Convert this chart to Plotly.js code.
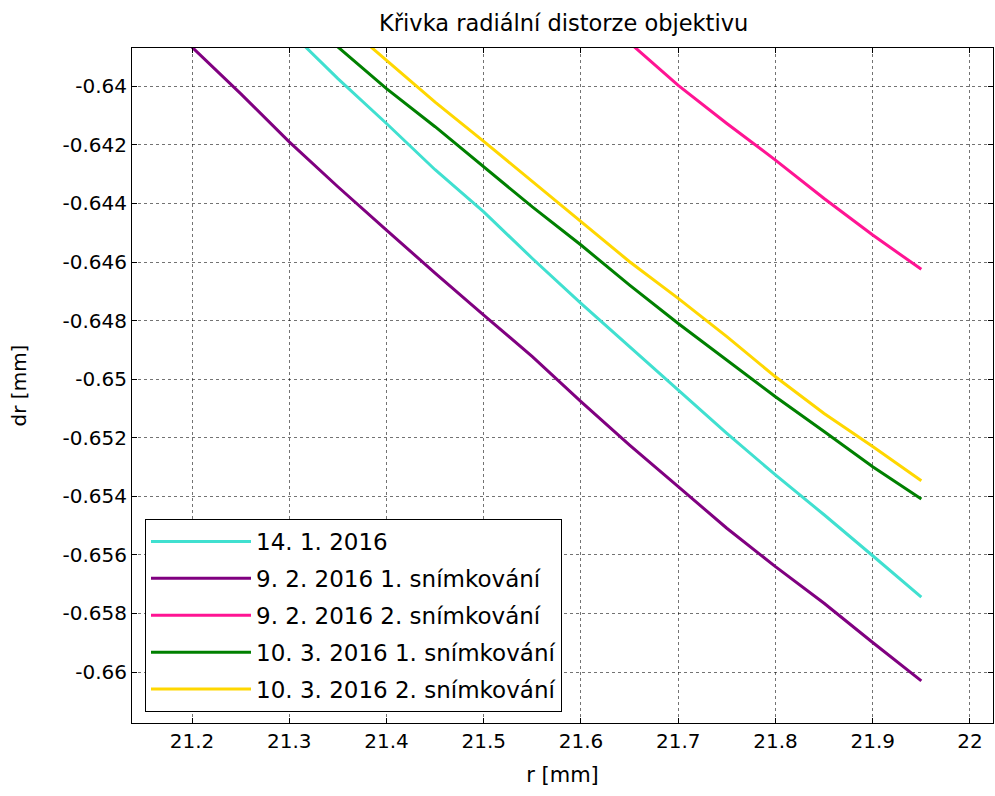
<!DOCTYPE html>
<html>
<head>
<meta charset="utf-8">
<script src="https://cdn.plot.ly/plotly-3.0.1.min.js"></script>
<style>html,body{margin:0;padding:0;background:#fff;}#chart{width:995px;height:796px;}</style>
</head>
<body>
<div id="chart"></div>
<script>
// ---- data ----
const seriesNames = ["14. 1. 2016", "9. 2. 2016 1. snímkování", "9. 2. 2016 2. snímkování", "10. 3. 2016 1. snímkování", "10. 3. 2016 2. snímkování"];

const r_s1 = [21.315, 21.35, 21.4, 21.45, 21.5, 21.55, 21.6, 21.65, 21.7, 21.75, 21.8, 21.85, 21.9, 21.95];
const dr_s1 = [-0.6386, -0.63974, -0.64127, -0.64285, -0.64429, -0.64588, -0.64741, -0.64889, -0.65037, -0.65185, -0.65327, -0.65463, -0.65603, -0.65744];

const r_s2 = [21.198, 21.25, 21.3, 21.35, 21.4, 21.45, 21.5, 21.55, 21.6, 21.65, 21.7, 21.75, 21.8, 21.85, 21.9, 21.95];
const dr_s2 = [-0.6386, -0.64025, -0.6419, -0.64343, -0.64491, -0.64638, -0.64781, -0.64923, -0.65077, -0.65225, -0.65367, -0.65509, -0.6564, -0.65765, -0.65899, -0.6603];

const r_s3 = [21.653, 21.7, 21.75, 21.8, 21.85, 21.9, 21.95];
const dr_s3 = [-0.6386, -0.63997, -0.64127, -0.64252, -0.64383, -0.64508, -0.64625];

const r_s4 = [21.348, 21.4, 21.45, 21.5, 21.55, 21.6, 21.65, 21.7, 21.75, 21.8, 21.85, 21.9, 21.95];
const dr_s4 = [-0.6386, -0.64008, -0.64138, -0.64275, -0.64412, -0.64542, -0.64679, -0.6481, -0.64935, -0.6506, -0.65179, -0.65299, -0.65409];

const r_s5 = [21.382, 21.4, 21.45, 21.5, 21.55, 21.6, 21.65, 21.7, 21.75, 21.8, 21.85, 21.9, 21.95];
const dr_s5 = [-0.6386, -0.63911, -0.64054, -0.64188, -0.64326, -0.64463, -0.64599, -0.64724, -0.64855, -0.64992, -0.65117, -0.6523, -0.65347];

const xTickVals = [21.2, 21.3, 21.4, 21.5, 21.6, 21.7, 21.8, 21.9, 22];
const xTickText = ["21.2", "21.3", "21.4", "21.5", "21.6", "21.7", "21.8", "21.9", "22"];
const yTickVals = [-0.64, -0.642, -0.644, -0.646, -0.648, -0.65, -0.652, -0.654, -0.656, -0.658, -0.66];
const yTickText = ["-0.64", "-0.642", "-0.644", "-0.646", "-0.648", "-0.65", "-0.652", "-0.654", "-0.656", "-0.658", "-0.66"];

const colors = ["#40E0D0", "#800080", "#FF1493", "#008000", "#FFD700"];

const xs = [r_s1, r_s2, r_s3, r_s4, r_s5];
const ys = [dr_s1, dr_s2, dr_s3, dr_s4, dr_s5];

const traces = xs.map((x, i) => ({
  x: x, y: ys[i], type: "scatter", mode: "lines",
  name: seriesNames[i], legendgroup: "g" + i,
  line: {color: colors[i], width: 3}
}));

const FONT = "DejaVu Sans, Arial, sans-serif";

const axisCommon = {
  showline: true, linecolor: "#000", linewidth: 1, mirror: "ticks",
  ticks: "inside", ticklen: 5, tickcolor: "#000", tickwidth: 1,
  showgrid: true, gridcolor: "rgba(0,0,0,0.55)", griddash: "dot", gridwidth: 1,
  zeroline: false, tickmode: "array",
  tickfont: {family: FONT, size: 20, color: "#000"}
};

const layout = {
  width: 995, height: 796,
  paper_bgcolor: "#fff", plot_bgcolor: "#fff",
  margin: {l: 132, r: 2, t: 48, b: 73},
  title: {text: "Křivka radiální distorze objektivu", font: {family: FONT, size: 22.5, color: "#000"}, x: 0.5665, xanchor: "center", y: 0.971, yanchor: "middle"},
  xaxis: Object.assign({}, axisCommon, {
    range: [21.1383, 22.0237], tickvals: xTickVals, ticktext: xTickText,
    title: {text: "r [mm]", font: {family: FONT, size: 21, color: "#000"}, standoff: 15}
  }),
  yaxis: Object.assign({}, axisCommon, {
    range: [-0.66174, -0.638693], tickvals: yTickVals, ticktext: yTickText,
    title: {text: "dr [mm]", font: {family: FONT, size: 20, color: "#000"}, standoff: 30}
  }),
  showlegend: true,
  legend: {
    x: 0.0151, y: 0.0163, xanchor: "left", yanchor: "bottom",
    bgcolor: "#fff", bordercolor: "#000", borderwidth: 1,
    font: {family: FONT, size: 23, color: "#000"},
    itemwidth: 100, tracegroupgap: 4, traceorder: "grouped"
  }
};

Plotly.newPlot("chart", traces, layout, {displayModeBar: false, staticPlot: true});
</script>
</body>
</html>
